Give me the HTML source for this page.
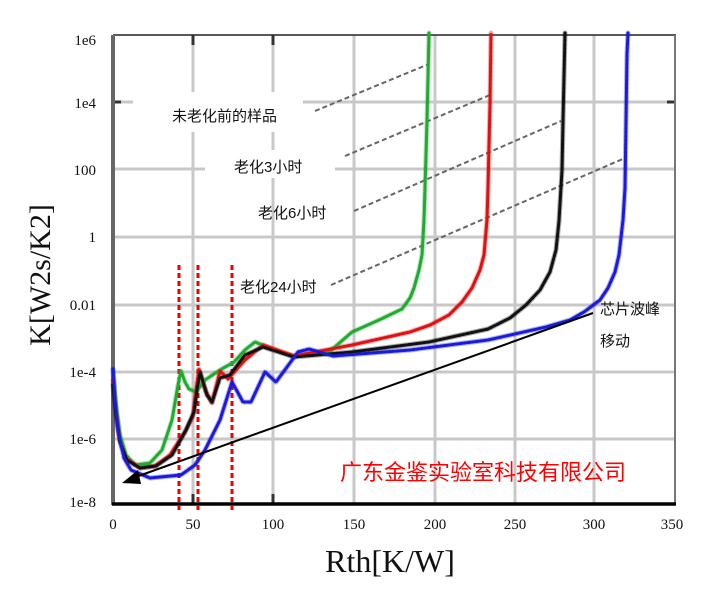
<!DOCTYPE html>
<html><head><meta charset="utf-8"><style>
html,body{margin:0;padding:0;background:#fff;}
svg{display:block;}
.t{font-family:"Liberation Serif","Noto Serif CJK SC",serif;font-size:15px;fill:#111;}
.c{font-family:"Liberation Sans","Noto Sans CJK SC",sans-serif;font-size:15px;fill:#111;}
</style></head><body>
<svg width="711" height="606" viewBox="0 0 711 606" xmlns="http://www.w3.org/2000/svg">
<rect width="711" height="606" fill="#fff"/>
<g stroke="#c8c8c8" stroke-width="3">
<line x1="193" y1="35" x2="193" y2="504"/><line x1="273" y1="35" x2="273" y2="504"/>
<line x1="354" y1="35" x2="354" y2="504"/><line x1="435" y1="35" x2="435" y2="504"/>
<line x1="515" y1="35" x2="515" y2="504"/><line x1="594" y1="35" x2="594" y2="504"/>
<line x1="113" y1="102" x2="675" y2="102"/><line x1="113" y1="169" x2="675" y2="169"/>
<line x1="113" y1="237" x2="675" y2="237"/><line x1="113" y1="305" x2="675" y2="305"/>
<line x1="113" y1="372" x2="675" y2="372"/><line x1="113" y1="439" x2="675" y2="439"/>
</g>
<rect x="133" y="92" width="170" height="40" fill="#fff"/>
<rect x="205" y="150" width="130" height="28" fill="#fff"/>
<g stroke="#333" stroke-width="3">
<line x1="193" y1="35" x2="193" y2="45"/><line x1="273" y1="35" x2="273" y2="45"/>
<line x1="193" y1="494" x2="193" y2="504"/><line x1="273" y1="494" x2="273" y2="504"/>
<line x1="113" y1="102" x2="121" y2="102"/><line x1="675" y1="102" x2="667" y2="102"/>
</g>
<line x1="113" y1="35" x2="676" y2="35" stroke="#222" stroke-width="1.5"/>
<line x1="675" y1="35" x2="675" y2="504" stroke="#777" stroke-width="2"/>
<line x1="113" y1="35" x2="113" y2="505" stroke="#666" stroke-width="4"/>
<line x1="112" y1="504" x2="676" y2="504" stroke="#000" stroke-width="3.5"/>
<g stroke="#666" stroke-width="2" stroke-dasharray="5,3">
<line x1="315" y1="111" x2="429" y2="64"/><line x1="345" y1="156" x2="490" y2="95"/>
<line x1="354" y1="211" x2="561" y2="121"/><line x1="331" y1="285" x2="625" y2="158"/>
</g>
<g stroke="#e00" stroke-width="3" stroke-dasharray="5,3">
<line x1="179" y1="265" x2="179" y2="512"/><line x1="198" y1="265" x2="198" y2="512"/><line x1="232" y1="265" x2="232" y2="512"/>
</g>
<g fill="none" stroke-linejoin="round" stroke-linecap="round">
<g stroke-width="5" stroke-opacity="0.35">
<polyline id="g" stroke="#2ab53a" points="113,370 116,405 120,435 126,455 135,465 150,463 162,450 172,420 178,385 181,371 185,382 189,389 196,392 205,380 220,370 234,362 245,350 255,342 275,350 294,356 315,354 329,352 352,332 379,320 402,309 410,298 414,288 419,270 422,255 424,220 425,188 427,121 429,33"/>
<polyline stroke="#e01010" points="113,380 116,410 120,440 126,458 140,468 155,466 170,455 185,432 193,416 196,390 199,369 206,392 212,403 220,371 228,379 245,360 263,345 294,356 352,345 410,332 430,325 449,315 462,302 472,288 480,270 484,255 487,220 488,188 490,104 491,33"/>
<polyline stroke="#111" points="113,385 116,415 120,442 127,460 140,468 156,466 172,455 186,430 194,412 197,390 200,372 207,395 212,402 220,378 230,375 245,355 263,347 294,357 352,352 429,342 488,329 510,318 526,305 540,290 550,272 556,250 559,221 562,170 563,121 565,33"/>
<polyline stroke="#1a1adf" points="113,369 115,400 118,430 124,458 131,470 150,478 181,475 195,465 205,450 220,420 232,382 243,402 251,402 265,372 276,382 298,352 309,349 333,356 410,350 488,340 546,327 570,320 584,312 600,300 608,288 615,272 619,255 623,220 625,188 627,54 628,33"/>
</g>
<g stroke-width="3" stroke-dasharray="2.5,1.5">
<polyline stroke="#1faa30" points="113,370 116,405 120,435 126,455 135,465 150,463 162,450 172,420 178,385 181,371 185,382 189,389 196,392 205,380 220,370 234,362 245,350 255,342 275,350 294,356 315,354 329,352 352,332 379,320 402,309 410,298 414,288 419,270 422,255 424,220 425,188 427,121 429,33"/>
<polyline stroke="#e01010" points="113,380 116,410 120,440 126,458 140,468 155,466 170,455 185,432 193,416 196,390 199,369 206,392 212,403 220,371 228,379 245,360 263,345 294,356 352,345 410,332 430,325 449,315 462,302 472,288 480,270 484,255 487,220 488,188 490,104 491,33"/>
<polyline stroke="#111" points="113,385 116,415 120,442 127,460 140,468 156,466 172,455 186,430 194,412 197,390 200,372 207,395 212,402 220,378 230,375 245,355 263,347 294,357 352,352 429,342 488,329 510,318 526,305 540,290 550,272 556,250 559,221 562,170 563,121 565,33"/>
<polyline stroke="#1a1adf" points="113,369 115,400 118,430 124,458 131,470 150,478 181,475 195,465 205,450 220,420 232,382 243,402 251,402 265,372 276,382 298,352 309,349 333,356 410,350 488,340 546,327 570,320 584,312 600,300 608,288 615,272 619,255 623,220 625,188 627,54 628,33"/>
</g>
</g>
<line x1="593" y1="313" x2="133" y2="478" stroke="#000" stroke-width="2"/>
<polygon points="122,483 138,470 141,484" fill="#000"/>
<text class="c" x="172" y="121">未老化前的样品</text>
<text class="c" x="234" y="172">老化3小时</text>
<text class="c" x="258" y="218">老化6小时</text>
<text class="c" x="240" y="292">老化24小时</text>
<text class="c" x="600" y="314">芯片波峰</text>
<text class="c" x="600" y="346">移动</text>
<text x="340" y="480" style="font-family:'Liberation Sans','Noto Sans CJK SC',sans-serif;font-size:22px;fill:#f00">广东金鉴实验室科技有限公司</text>
<g class="t" text-anchor="end">
<text x="96" y="45">1e6</text><text x="96" y="108">1e4</text><text x="96" y="175">100</text>
<text x="96" y="242">1</text><text x="96" y="310">0.01</text><text x="96" y="377">1e-4</text>
<text x="96" y="444">1e-6</text><text x="96" y="507">1e-8</text>
</g>
<g class="t" text-anchor="middle">
<text x="113" y="529">0</text><text x="193" y="529">50</text><text x="273" y="529">100</text>
<text x="354" y="529">150</text><text x="435" y="529">200</text><text x="515" y="529">250</text>
<text x="594" y="529">300</text><text x="672" y="529">350</text>
</g>
<text x="390" y="572" text-anchor="middle" style="font-family:'Liberation Serif',serif;font-size:32px;fill:#111">Rth[K/W]</text>
<text transform="translate(50,275) rotate(-90)" text-anchor="middle" style="font-family:'Liberation Serif',serif;font-size:30px;fill:#111">K[W2s/K2]</text>
</svg>
</body></html>
